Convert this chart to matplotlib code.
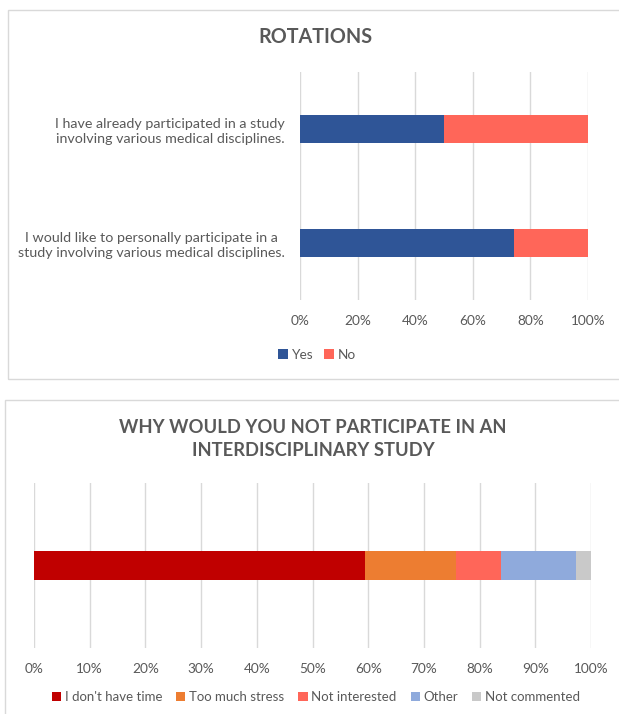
import matplotlib.pyplot as plt
from matplotlib.patches import Rectangle

plt.rcParams['font.family'] = ['Lato', 'DejaVu Sans']

W, H = 619, 714
GREY = '#595959'
GRID = '#D9D9D9'

# rotations chart
rot_questions = ["I have already participated in a study\ninvolving various medical disciplines.",
                 "I would like to personally participate in a\nstudy involving various medical disciplines."]
rot_yes = [50.0, 74.3]
rot_no = [50.0, 25.7]

# reasons for not participating
reason_labels = ["I don't have time", "Too much stress", "Not interested", "Other", "Not commented"]
reason_share = [59.5, 16.2, 8.1, 13.5, 2.7]
reason_colors = ['#C00000', '#ED7D31', '#FF6659', '#8FAADC', '#C9C9C9']


def box(x0, y0, x1, y1):
    # pixel box -> figure fraction [left, bottom, width, height]
    return [x0 / W, 1 - y1 / H, (x1 - x0) / W, (y1 - y0) / H]


def style_axis(ax, ticks, labels):
    ax.set_xlim(0, 100)
    ax.set_xticks(ticks)
    ax.set_xticklabels(labels, color=GREY, fontsize=9.8)
    ax.tick_params(axis='x', length=0, pad=11)
    ax.grid(axis='x', color=GRID, linewidth=1)
    ax.set_axisbelow(True)
    for s in ax.spines.values():
        s.set_visible(False)


fig = plt.figure(figsize=(W / 100, H / 100), dpi=100)

# panel frames (right edges run off the canvas)
fig.patches.append(Rectangle((8 / W, 1 - 379 / H), 640 / W, 369 / H, transform=fig.transFigure,
                             fill=False, edgecolor='#D9D9D9', linewidth=1))
fig.patches.append(Rectangle((5 / W, 1 - 760 / H), 640 / W, 360 / H, transform=fig.transFigure,
                             fill=False, edgecolor='#D9D9D9', linewidth=1))

# --- top chart ---
ax1 = fig.add_axes(box(300, 72, 588, 300))
pos = list(range(len(rot_questions)))
b_yes = ax1.barh(pos, rot_yes, height=0.245, color='#2F5597', label='Yes')
b_no = ax1.barh(pos, rot_no, left=rot_yes, height=0.245, color='#FF6659', label='No')
ax1.set_ylim(1.5, -0.5)
ax1.set_yticks(pos)
ax1.set_yticklabels(rot_questions, color=GREY, fontsize=10.3, multialignment='center',
                    linespacing=1.3)
ax1.tick_params(axis='y', length=0, pad=11)
style_axis(ax1, [0, 20, 40, 60, 80, 100], ['0%', '20%', '40%', '60%', '80%', '100%'])
fig.text(315 / W, 1 - 37 / H, 'ROTATIONS', ha='center', va='center', fontsize=14.2,
         fontweight='bold', color=GREY)
fig.legend(handles=[b_yes, b_no], loc='center', bbox_to_anchor=(317 / W, 1 - 355 / H),
           ncol=2, frameon=False, fontsize=9.8, labelcolor=GREY, handlelength=0.7,
           handleheight=0.7, handletextpad=0.3, columnspacing=0.8)

# --- bottom chart ---
ax2 = fig.add_axes(box(34, 483, 591, 648))
left = 0
bars = []
for lab, val, col in zip(reason_labels, reason_share, reason_colors):
    bars.append(ax2.barh([0], [val], left=left, height=0.17, color=col, label=lab))
    left += val
ax2.set_ylim(-0.5, 0.5)
ax2.set_yticks([])
style_axis(ax2, list(range(0, 101, 10)), [f'{v}%' for v in range(0, 101, 10)])
fig.text(313 / W, 1 - 439 / H, 'WHY WOULD YOU NOT PARTICIPATE IN AN\nINTERDISCIPLINARY STUDY',
         ha='center', va='center', fontsize=13.2, fontweight='bold', color=GREY, linespacing=1.45)
fig.legend(handles=bars, loc='center', bbox_to_anchor=(316 / W, 1 - 697 / H),
           ncol=5, frameon=False, fontsize=9.5, labelcolor=GREY, handlelength=0.7,
           handleheight=0.7, handletextpad=0.3, columnspacing=1.05)

fig.savefig('out.png', dpi=100)
